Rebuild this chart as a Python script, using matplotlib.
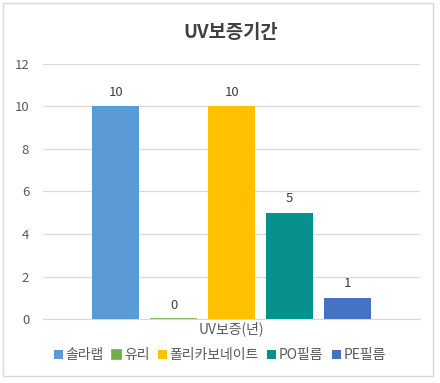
import matplotlib.pyplot as plt
from matplotlib.patches import Rectangle

plt.rcParams['font.family'] = ['Noto Sans CJK KR', 'DejaVu Sans']

TITLE = "UV보증기간"
CATEGORY = "UV보증(년)"
SERIES = ["솔라랩", "유리", "폴리카보네이트", "PO필름", "PE필름"]
VALUES = [10, 0, 10, 5, 1]
COLORS = ["#5B9BD5", "#70AD47", "#FFC000", "#06918F", "#4472C4"]
YTICKS = [0, 2, 4, 6, 8, 10, 12]

fig = plt.figure(figsize=(4.4, 3.83), dpi=100)
fig.patches.append(Rectangle((0.007, 0.018), 0.978, 0.974, transform=fig.transFigure,
                             fill=False, edgecolor="#D9D9D9", lw=1.0))
ax = fig.add_axes([0.098, 0.167, 0.857, 0.666])

n = len(SERIES)
handles = []
for i, (name, v, c) in enumerate(zip(SERIES, VALUES, COLORS)):
    x = i - (n - 1) / 2
    b = ax.bar(x, v, width=0.8, color=c, label=name, zorder=3,
               edgecolor=c if v == 0 else "none", linewidth=1.2)
    handles.append(b)
    ax.text(x, v + 0.35, f"{v}", ha="center", va="bottom", fontsize=9.5, color="#404040")

ax.set_xlim(-3.25, 3.25)
ax.set_ylim(0, 12)
ax.set_yticks(YTICKS)
ax.set_xticks([0])
ax.set_xticklabels([CATEGORY])
ax.tick_params(axis="both", length=0, colors="#595959", labelsize=9.5)
ax.tick_params(axis="x", labelsize=10, pad=2)
ax.tick_params(axis="y", pad=10)
ax.grid(axis="y", color="#D9D9D9", lw=0.9, zorder=0)
for s in ["top", "right", "left"]:
    ax.spines[s].set_visible(False)
ax.spines["bottom"].set_color("#D9D9D9")

fig.text(0.525, 0.915, TITLE, ha="center", va="center", fontsize=13.5,
         fontweight="bold", color="#404040")

fig.legend(handles=handles, labels=SERIES, loc="center", bbox_to_anchor=(0.5, 0.073),
           ncol=n, frameon=False, fontsize=10, handlelength=0.65, handleheight=0.65,
           handletextpad=0.2, columnspacing=0.6, labelcolor="#595959")

fig.savefig("out.png", dpi=100)
